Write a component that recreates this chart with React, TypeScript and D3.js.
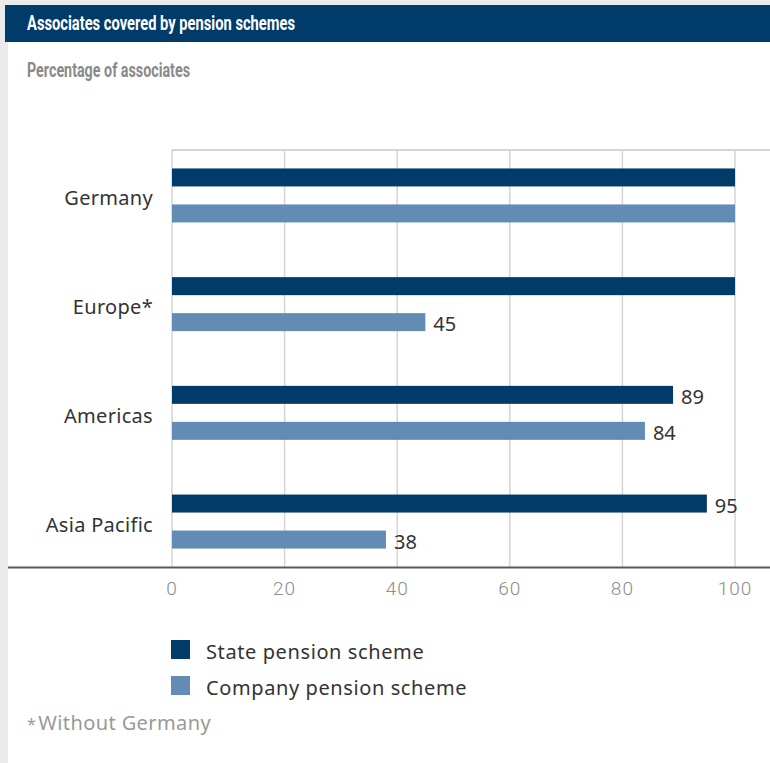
import React from "react";
import * as d3 from "d3";

const categories = ["Germany", "Europe*", "Americas", "Asia Pacific"];
const stateValues = [100, 100, 89, 95];
const companyValues = [100, 45, 84, 38];
const xTicks = [0, 20, 40, 60, 80, 100];
const seriesNames = ["State pension scheme", "Company pension scheme"];
const seriesColors = ["#003b6a", "#628cb3"];

const W = 770;
const H = 763;

export default function App() {
  const x = d3.scaleLinear().domain([0, 100]).range([172, 735]);
  const y = d3.scalePoint<string>().domain(categories).range([150, 567]).padding(0.418);
  const barH = 18;
  const plotTop = 150;
  const plotBottom = 567.5;
  const font = "'Noto Sans', 'DejaVu Sans', sans-serif";

  const series = [stateValues, companyValues];
  const offsets = [-27, 9];

  return (
    <svg
      width={W}
      height={H}
      style={{ position: "absolute", left: 0, top: 0, display: "block" }}
    >
      <rect x={0} y={0} width={W} height={H} fill="#e9eae9" />
      <rect x={8} y={42} width={W - 8} height={H - 42} fill="#ffffff" />
      <rect x={5} y={5} width={W - 5} height={37} fill="#003b6a" />
      <text
        x={27}
        y={30}
        fill="#ffffff"
        fontFamily="Roboto, sans-serif"
        fontWeight={700}
        fontSize={20}
        textLength={268}
        lengthAdjust="spacingAndGlyphs"
      >
        Associates covered by pension schemes
      </text>
      <text
        x={27}
        y={77}
        fill="#8a8a8a"
        fontFamily="Roboto, sans-serif"
        fontWeight={700}
        fontSize={20}
        textLength={163}
        lengthAdjust="spacingAndGlyphs"
      >
        Percentage of associates
      </text>

      {/* grid */}
      {xTicks.map((t) => (
        <line
          key={"g" + t}
          x1={x(t)}
          x2={x(t)}
          y1={plotTop}
          y2={plotBottom}
          stroke="#d4d4d4"
          strokeWidth={1.5}
        />
      ))}
      <line x1={x(0)} x2={W} y1={plotTop} y2={plotTop} stroke="#d4d4d4" strokeWidth={2} />

      {/* bars */}
      {categories.map((c, i) =>
        series.map((vals, s) => {
          const v = vals[i];
          const cy = (y(c) ?? 0) + offsets[s];
          return (
            <g key={c + s}>
              <rect
                x={x(0)}
                y={cy}
                width={x(v) - x(0)}
                height={barH}
                fill={seriesColors[s]}
              />
              {v < 100 && (
                <text
                  x={x(v) + 8}
                  y={cy + barH / 2 + 9}
                  fontFamily={font}
                  fontSize={20}
                  fill="#333333"
                >
                  {v}
                </text>
              )}
            </g>
          );
        })
      )}

      {/* category labels */}
      {categories.map((c) => (
        <text
          key={"c" + c}
          x={153}
          y={(y(c) ?? 0) + 10}
          textAnchor="end"
          fontFamily={font}
          fontSize={20}
          letterSpacing={0.3}
          fill="#333333"
        >
          {c}
        </text>
      ))}

      {/* axis */}
      <line x1={8} x2={W} y1={plotBottom} y2={plotBottom} stroke="#5a5a5a" strokeWidth={2} />
      {xTicks.map((t) => (
        <text
          key={"t" + t}
          x={x(t)}
          y={595}
          textAnchor="middle"
          fontFamily="Roboto, sans-serif"
          fontWeight={300}
          fontSize={19}
          letterSpacing={1}
          fill="#8c8c8c"
        >
          {t}
        </text>
      ))}

      {/* legend */}
      {seriesNames.map((n, i) => (
        <g key={n} transform={`translate(171, ${640 + i * 36})`}>
          <rect x={0} y={0} width={19} height={19} fill={seriesColors[i]} />
          <text
            x={35}
            y={19}
            fontFamily={font}
            fontSize={20}
            letterSpacing={0.6}
            fill="#333333"
          >
            {n}
          </text>
        </g>
      ))}

      <text x={27} y={730} fontFamily={font} fontSize={20} letterSpacing={0.4} fill="#999999">
        <tspan fontSize={16}>*</tspan>
        <tspan dx={2}>Without Germany</tspan>
      </text>
    </svg>
  );
}
